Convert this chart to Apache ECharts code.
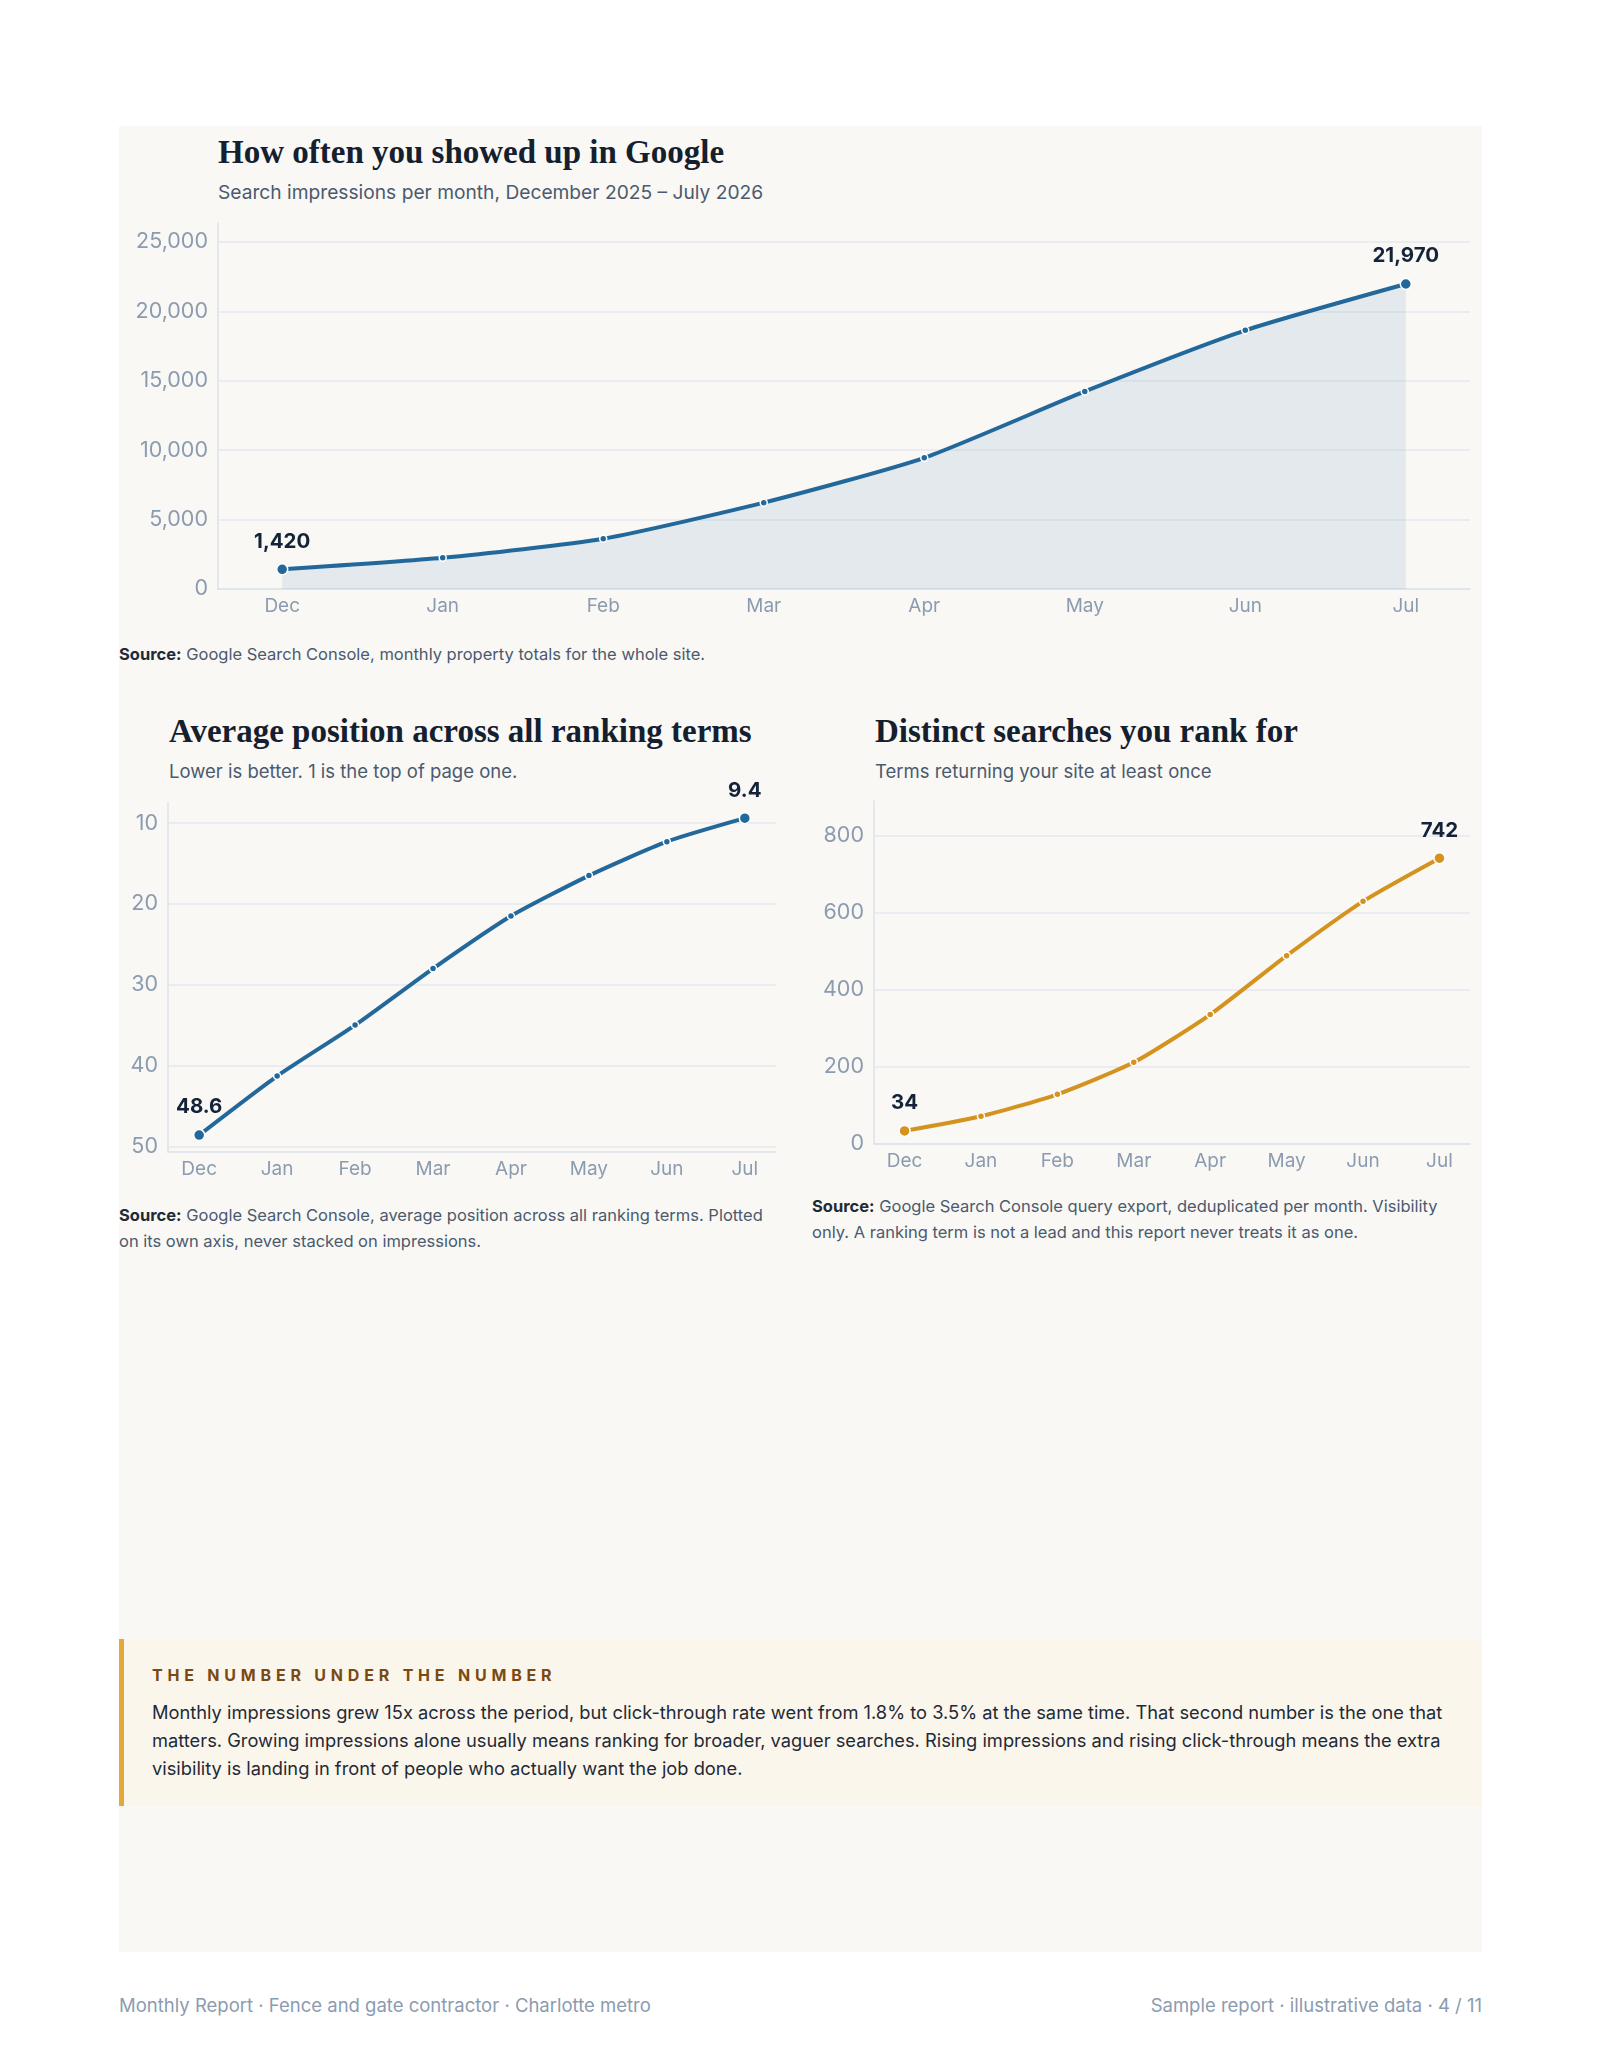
<!DOCTYPE html>
<html>
<head>
<meta charset="utf-8">
<title>Monthly Report - Search visibility</title>
<script src="https://cdn.jsdelivr.net/npm/echarts@6/dist/echarts.min.js"></script>
<style>
  body { margin: 0; background: #fff; font-family: Inter, "Noto Sans", sans-serif; }
  .page { position: relative; width: 1600px; height: 2071px; overflow: hidden; }
  .panel { position: absolute; left: 119px; top: 126px; width: 1363px; height: 1826px; background: #f9f8f5; }
  .abs { position: absolute; }
  .title { font-family: "Liberation Serif", "DejaVu Serif", serif; font-weight: 700; font-size: 33px; line-height: 1; color: #14202e; white-space: nowrap; }
  .sub { line-height: 1; color: #4b5a6e; white-space: nowrap; }
  .src { font-size: 16.5px; line-height: 26px; color: #4b5a6e; }
  .src b { color: #1f2a37; font-weight: 700; }
  .callout { position: absolute; left: 119px; top: 1639px; width: 1363px; height: 167px; background: #fbf6ec; box-sizing: border-box; border-left: 5px solid #e3a73a; }
  .callout h4 { position: absolute; left: 28px; top: 28px; margin: 0; font-size: 16px; line-height: 1; font-weight: 700; letter-spacing: 4.8px; color: #7a4a12; white-space: nowrap; }
  .callout p { position: absolute; left: 28px; right: 30px; top: 59px; margin: 0; font-size: 18.3px; line-height: 28px; color: #1f2a37; }
  .foot { position: absolute; top: 1996px; font-size: 18.5px; line-height: 1; color: #8b9bb0; white-space: nowrap; }
  .chart { position: absolute; }
</style>
</head>
<body>
<div class="page">
  <div class="panel"></div>

  <div class="abs title" style="left:218px;top:136px">How often you showed up in Google</div>
  <div class="abs sub" style="left:218px;top:183px;font-size:19.2px">Search impressions per month, December 2025 – July 2026</div>
  <div class="abs src" style="left:119px;top:641px;width:1363px"><b>Source:</b> Google Search Console, monthly property totals for the whole site.</div>

  <div class="abs title" style="left:169px;top:715px">Average position across all ranking terms</div>
  <div class="abs sub" style="left:169px;top:762px;font-size:18.5px">Lower is better. 1 is the top of page one.</div>
  <div class="abs src" style="left:119px;top:1202px;width:655px"><b>Source:</b> Google Search Console, average position across all ranking terms. Plotted on its own axis, never stacked on impressions.</div>

  <div class="abs title" style="left:875px;top:715px">Distinct searches you rank for</div>
  <div class="abs sub" style="left:875px;top:762px;font-size:18.5px">Terms returning your site at least once</div>
  <div class="abs src" style="left:812px;top:1193px;width:655px"><b>Source:</b> Google Search Console query export, deduplicated per month. Visibility only. A ranking term is not a lead and this report never treats it as one.</div>

  <div id="impChart" class="chart" style="left:119px;top:200px;width:1363px;height:440px"></div>
  <div id="posChart" class="chart" style="left:119px;top:770px;width:669px;height:440px"></div>
  <div id="termChart" class="chart" style="left:812px;top:770px;width:670px;height:440px"></div>

  <div class="callout">
    <h4>THE NUMBER UNDER THE NUMBER</h4>
    <p>Monthly impressions grew 15x across the period, but click-through rate went from 1.8% to 3.5% at the same time. That second number is the one that matters. Growing impressions alone usually means ranking for broader, vaguer searches. Rising impressions and rising click-through means the extra visibility is landing in front of people who actually want the job done.</p>
  </div>

  <div class="foot" style="left:119px">Monthly Report · Fence and gate contractor · Charlotte metro</div>
  <div class="foot" style="right:118px">Sample report · illustrative data · 4 / 11</div>
</div>

<script type="text/javascript">
// data
var months = ['Dec', 'Jan', 'Feb', 'Mar', 'Apr', 'May', 'Jun', 'Jul'];
var impressions = [1420, 2250, 3620, 6220, 9450, 14230, 18630, 21970];
var avgPosition = [48.6, 41.3, 35.0, 28.0, 21.5, 16.5, 12.3, 9.4];
var distinctTerms = [34, 72, 129, 212, 336, 489, 630, 742];

var impTicks = [0, 5000, 10000, 15000, 20000, 25000];
var posTicks = [10, 20, 30, 40, 50];
var termTicks = [0, 200, 400, 600, 800];

var BLUE = '#23689b';
var GOLD = '#d4921e';
var GRID = '#e5e9ef';
var AXIS = '#dde2e9';
var LABEL = '#8b9bb0';
var INK = '#14233a';
var FONT = 'Inter';
var monthIdx = months.map(function (m, i) { return i; });

function fmt(v) { return v.toLocaleString('en-US'); }

function pointData(values) {
    var last = values.length - 1;
    return values.map(function (v, i) {
        var end = (i === 0 || i === last);
        return {
            value: [i, v],
            symbolSize: end ? 11 : 7,
            label: { show: end }
        };
    });
}

function xAxisOpt() {
    return {
        type: 'value',
        min: -0.4,
        max: 7.4,
        axisLine: { show: true, onZero: false, lineStyle: { color: AXIS, width: 1.5 } },
        axisTick: { show: false, customValues: monthIdx },
        splitLine: { show: false },
        axisLabel: {
            customValues: monthIdx,
            formatter: function (v) { return months[Math.round(v)]; },
            color: LABEL, fontFamily: FONT, fontSize: 19, margin: 8
        }
    };
}

function yAxisOpt(ticks, min, max, inverse, labelFmt) {
    return {
        type: 'value',
        min: min,
        max: max,
        inverse: inverse,
        axisLine: { show: true, onZero: false, lineStyle: { color: AXIS, width: 1.5 } },
        axisTick: { show: false, customValues: ticks },
        splitLine: { show: true, lineStyle: { color: GRID, width: 1.5 } },
        axisLabel: {
            customValues: ticks,
            formatter: labelFmt,
            color: LABEL, fontFamily: FONT, fontSize: 21.5, margin: 10
        }
    };
}

function lineSeries(values, color, labelFmt, area) {
    var s = {
        type: 'line',
        data: pointData(values),
        smooth: 0.2,
        symbol: 'circle',
        lineStyle: { color: color, width: 4 },
        itemStyle: { color: color, borderColor: '#ffffff', borderWidth: 1.5 },
        label: {
            position: 'top',
            distance: 11,
            formatter: function (p) { return labelFmt(p.value[1]); },
            color: INK, fontFamily: FONT, fontSize: 20.5, fontWeight: 'bold'
        },
        emphasis: { disabled: true },
        animation: false
    };
    if (area) s.areaStyle = { color: 'rgba(35,104,155,0.14)' };
    return s;
}

var impChart = echarts.init(document.getElementById('impChart'));
impChart.setOption({
    animation: false,
    grid: { left: 99, right: 12, top: 23, bottom: 51, containLabel: false },
    xAxis: xAxisOpt(),
    yAxis: yAxisOpt(impTicks, 0, Math.max.apply(null, impressions) * 1.2, false, fmt),
    series: [lineSeries(impressions, BLUE, fmt, true)]
});

var posChart = echarts.init(document.getElementById('posChart'));
posChart.setOption({
    animation: false,
    grid: { left: 49, right: 12, top: 33, bottom: 58, containLabel: false },
    xAxis: xAxisOpt(),
    yAxis: yAxisOpt(posTicks, Math.min.apply(null, avgPosition) * 0.8, 50.7, true, function (v) { return String(v); }),
    series: [lineSeries(avgPosition, BLUE, function (v) { return v.toFixed(1); }, false)]
});

var termChart = echarts.init(document.getElementById('termChart'));
termChart.setOption({
    animation: false,
    grid: { left: 62, right: 12, top: 31, bottom: 66, containLabel: false },
    xAxis: xAxisOpt(),
    yAxis: yAxisOpt(termTicks, 0, Math.max.apply(null, distinctTerms) * 1.2, false, function (v) { return String(v); }),
    series: [lineSeries(distinctTerms, GOLD, fmt, false)]
});
</script>
</body>
</html>
